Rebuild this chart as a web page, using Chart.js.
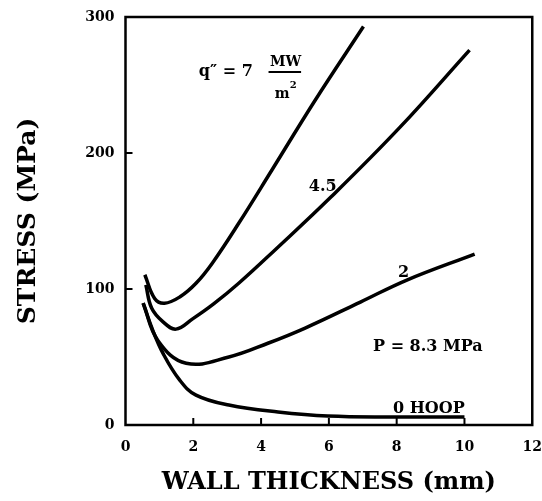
<!DOCTYPE html>
<html>
<head>
<meta charset="utf-8">
<script src="https://cdn.jsdelivr.net/npm/chart.js@4/dist/chart.umd.min.js"></script>
<style>
html,body{margin:0;padding:0;background:#fff;}
canvas{display:block;}
</style>
</head>
<body>
<canvas id="c" width="542" height="501"></canvas>
<script>
// ---- data ----
const thickQ7 = [0.57, 0.86, 1.15, 1.61, 2.08, 2.56, 3.34, 4.32, 5.6, 7.02];
const stressQ7 = [110.5, 93, 89.5, 94.3, 104.2, 119, 148.3, 187.5, 239, 293];

const thickQ45 = [0.6, 0.77, 1.1, 1.49, 1.98, 2.6, 3.34, 4.41, 6.06, 8.1, 10.15];
const stressQ45 = [103, 86, 76, 70.5, 78, 89, 104.2, 128.7, 167.6, 219, 275.7];

const thickQ2 = [0.52, 0.96, 1.79, 3.05, 4.22, 5.3, 6.93, 8.3, 10.3];
const stressQ2 = [89.6, 62, 45.4, 50, 60.3, 71.3, 90.4, 106.6, 125.7];

const thickHoop = [0.52, 0.8, 1.1, 1.6, 2.08, 3.05, 4.5, 5.97, 7.9, 10.0];
const stressHoop = [89.6, 70, 53, 33, 22, 14.7, 9.6, 6.6, 5.9, 5.9];

const xTicks = [0, 2, 4, 6, 8, 10, 12];
const yTicks = [0, 100, 200, 300];

const curveLabels = ['4.5', '2', 'P = 8.3 MPa', '0 HOOP'];
const curveLabelX = [5.82, 8.2, 8.92, 8.95];
const curveLabelY = [175, 111.8, 57.4, 11.8];

// ---- helpers ----
const toPts = (xs, ys) => xs.map((v, i) => ({x: v, y: ys[i]}));
const FAM = '"DejaVu Serif", "Liberation Serif", serif';

const overlay = {
  id: 'overlay',
  afterDatasetsDraw(chart) {
    const {ctx, chartArea: a, scales: {x, y}} = chart;
    ctx.save();
    ctx.strokeStyle = '#000';
    ctx.lineWidth = 2.5;
    ctx.strokeRect(a.left, a.top, a.right - a.left, a.bottom - a.top);
    ctx.lineWidth = 2;
    xTicks.forEach(v => {
      if (v > 0 && v < 12) {
        const px = x.getPixelForValue(v);
        ctx.beginPath(); ctx.moveTo(px, a.bottom); ctx.lineTo(px, a.bottom - 7); ctx.stroke();
      }
    });
    yTicks.forEach(v => {
      if (v > 0 && v < 300) {
        const py = y.getPixelForValue(v);
        ctx.beginPath(); ctx.moveTo(a.left, py); ctx.lineTo(a.left + 7, py); ctx.stroke();
      }
    });
    ctx.fillStyle = '#000';
    ctx.textAlign = 'center';
    ctx.textBaseline = 'middle';
    ctx.font = 'bold 16px ' + FAM;
    curveLabels.forEach((t, i) => {
      ctx.fillText(t, x.getPixelForValue(curveLabelX[i]), y.getPixelForValue(curveLabelY[i]));
    });
    // q'' = 7 MW/m^2
    ctx.font = 'bold 16px ' + FAM;
    ctx.fillText('q\u2033 = 7', x.getPixelForValue(2.96), y.getPixelForValue(259.6));
    ctx.font = 'bold 14px ' + FAM;
    ctx.fillText('MW', x.getPixelForValue(4.72), y.getPixelForValue(267));
    ctx.fillText('m', x.getPixelForValue(4.62), y.getPixelForValue(243));
    ctx.font = 'bold 10px ' + FAM;
    ctx.fillText('2', x.getPixelForValue(4.95), y.getPixelForValue(250));
    ctx.lineWidth = 2;
    ctx.beginPath();
    ctx.moveTo(x.getPixelForValue(4.22), y.getPixelForValue(259.6));
    ctx.lineTo(x.getPixelForValue(5.18), y.getPixelForValue(259.6));
    ctx.stroke();
    ctx.restore();
  }
};

const lineDs = (xs, ys) => ({
  data: toPts(xs, ys),
  borderColor: '#000',
  borderWidth: 3.5,
  pointRadius: 0,
  fill: false,
  tension: 0.4
});

const hiddenTicks = len => ({display: true, drawOnChartArea: false, drawTicks: true, tickLength: len, color: 'rgba(0,0,0,0)'});

new Chart(document.getElementById('c'), {
  type: 'line',
  data: {
    datasets: [
      lineDs(thickQ7, stressQ7),
      lineDs(thickQ45, stressQ45),
      lineDs(thickQ2, stressQ2),
      lineDs(thickHoop, stressHoop)
    ]
  },
  options: {
    responsive: false,
    animation: false,
    devicePixelRatio: 1,
    layout: {padding: {top: 17, right: 7, left: 0, bottom: 0}},
    plugins: {legend: {display: false}, tooltip: {enabled: false}},
    scales: {
      x: {
        type: 'linear', min: 0, max: 12,
        afterBuildTicks: s => { s.ticks = xTicks.map(v => ({value: v})); },
        afterFit: s => { s.height = 76; },
        grid: hiddenTicks(14), border: {display: false},
        ticks: {color: '#000', padding: 0, maxRotation: 0, font: {family: FAM, size: 14, weight: 'bold'}},
        title: {display: true, text: 'WALL THICKNESS (mm)', color: '#000',
                font: {family: FAM, size: 24, weight: 'bold'}, padding: {top: 0, bottom: 4}}
      },
      y: {
        type: 'linear', min: 0, max: 300,
        afterBuildTicks: s => { s.ticks = yTicks.map(v => ({value: v})); },
        afterFit: s => { s.width = 125.5; },
        grid: hiddenTicks(11), border: {display: false},
        ticks: {color: '#000', padding: 0, font: {family: FAM, size: 14, weight: 'bold'}},
        title: {display: true, text: 'STRESS (MPa)', color: '#000',
                font: {family: FAM, size: 25, weight: 'bold'}, padding: {top: 13, bottom: 0}}
      }
    }
  },
  plugins: [overlay]
});
</script>
</body>
</html>
